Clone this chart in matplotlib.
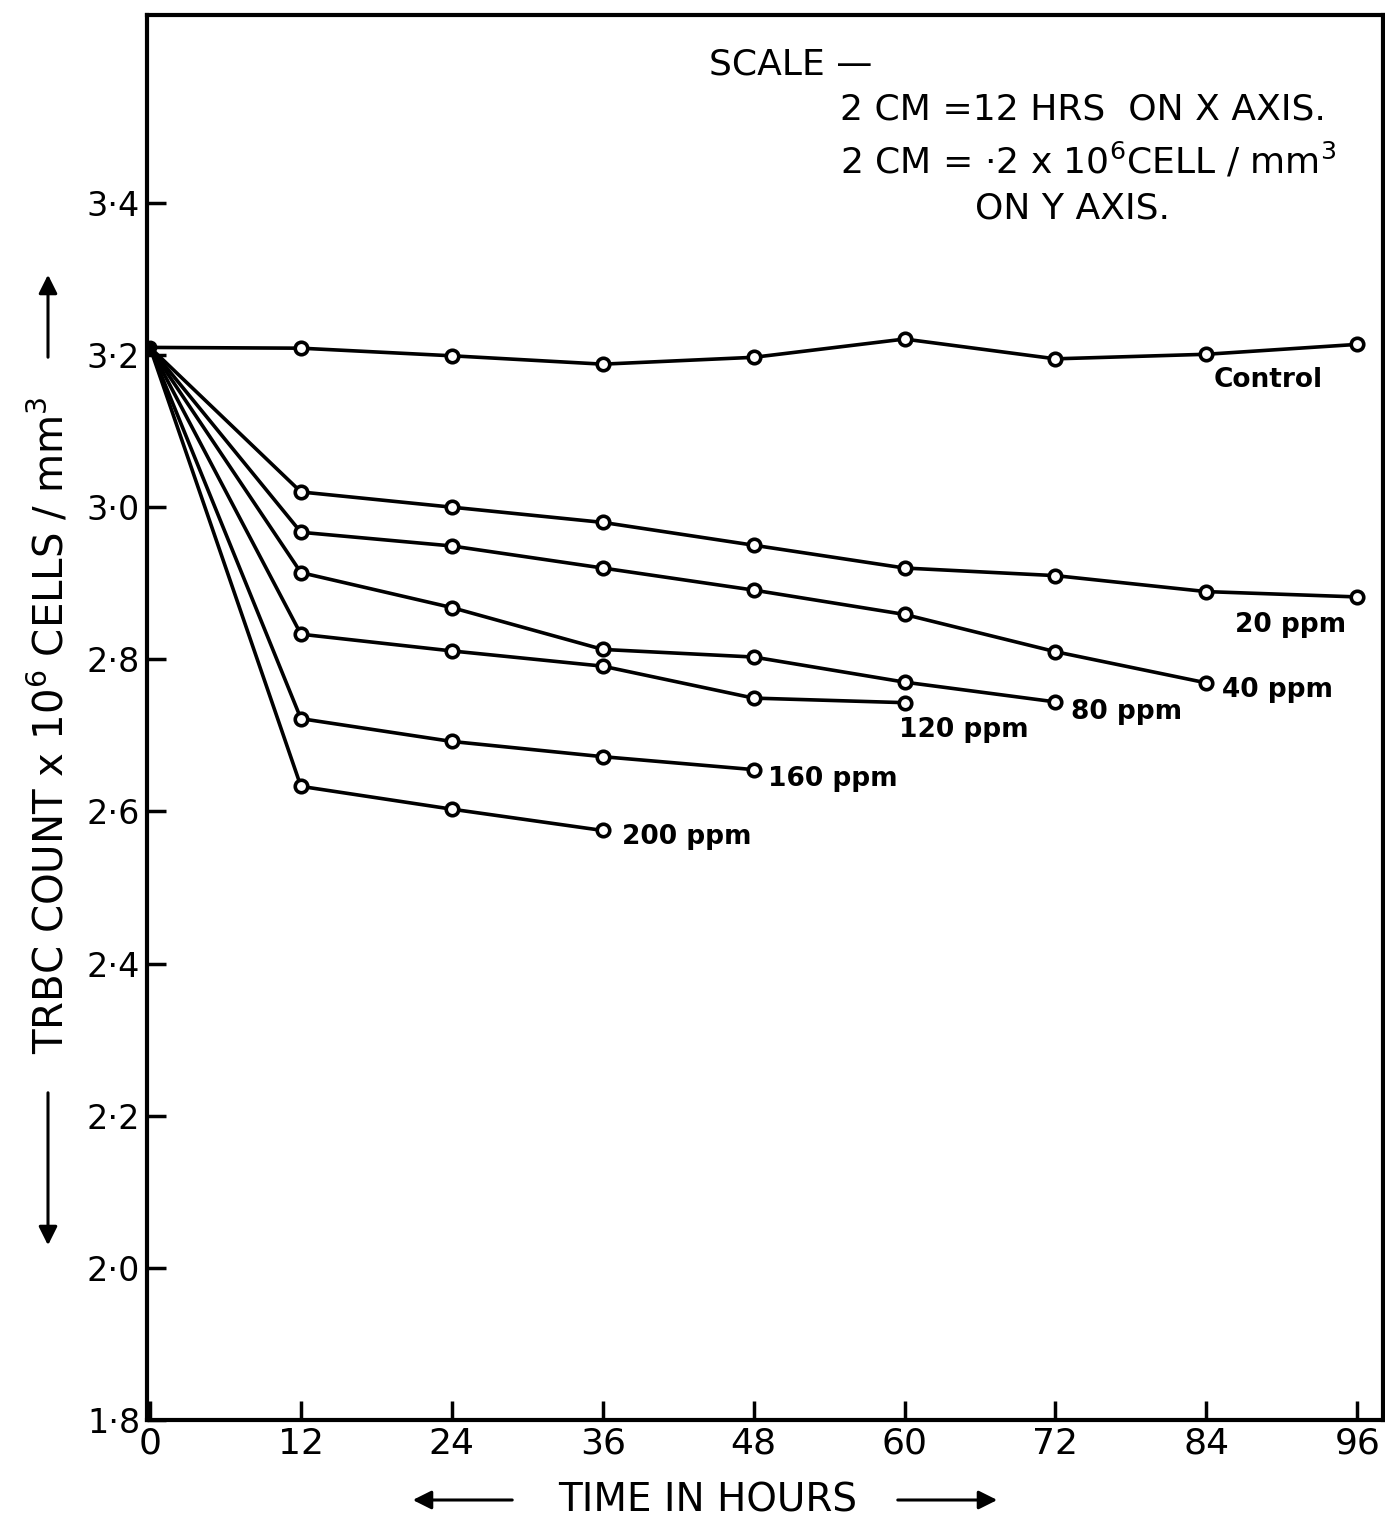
import matplotlib
matplotlib.use('Agg')
import matplotlib.pyplot as plt

plt.rcParams['font.family'] = ['DejaVu Sans']
plt.rcParams['mathtext.fontset'] = 'custom'
plt.rcParams['mathtext.rm'] = 'DejaVu Sans'

# 时间 (小时)
hours = [0, 12, 24, 36, 48, 60, 72, 84, 96]

# 各组 TRBC 值 (x10^6 cells/mm^3)
control = [3.21, 3.209, 3.199, 3.188, 3.197, 3.221, 3.195, 3.201, 3.214]
ppm20 = [3.21, 3.020, 3.000, 2.980, 2.950, 2.920, 2.910, 2.889, 2.882]
ppm40 = [3.21, 2.967, 2.949, 2.920, 2.891, 2.859, 2.810, 2.769]
ppm80 = [3.21, 2.914, 2.868, 2.813, 2.803, 2.770, 2.744]
ppm120 = [3.21, 2.833, 2.811, 2.791, 2.749, 2.743]
ppm160 = [3.21, 2.722, 2.692, 2.672, 2.655]
ppm200 = [3.21, 2.633, 2.603, 2.575]

series_names = ['Control', '20 ppm', '40 ppm', '80 ppm', '120 ppm', '160 ppm', '200 ppm']
series_values = [control, ppm20, ppm40, ppm80, ppm120, ppm160, ppm200]

# 标签偏移 (points)
label_offsets = [(-64, -26), (-48, -20), (11, -5), (11, -7), (-4, -20), (10, -7), (14, -5)]
label_ha = ['center', 'center', 'left', 'left', 'left', 'left', 'left']

y_ticks = [1.8, 2.0, 2.2, 2.4, 2.6, 2.8, 3.0, 3.2, 3.4]
y_tick_labels = ['1·8', '2·0', '2·2', '2·4', '2·6', '2·8', '3·0', '3·2', '3·4']

fig = plt.figure(figsize=(13.85, 15.19), dpi=100)
ax = fig.add_axes([147 / 1385, 1 - 1420 / 1519, 1236 / 1385, 1405 / 1519])

for name, vals, off, ha in zip(series_names, series_values, label_offsets, label_ha):
    x = hours[:len(vals)]
    ax.plot(x, vals, color='black', lw=2.6, zorder=2)
    ax.plot(x[1:], vals[1:], 'o', ms=9, mfc='white', mec='black', mew=2.6, zorder=3)
    ax.annotate(name, (x[-1], vals[-1]), xytext=off, textcoords='offset points',
                ha=ha, va='center', fontsize=19, fontweight='semibold')

ax.plot([0], [control[0]], 'o', ms=9, color='black', zorder=4)

ax.set_xlim(-0.24, 98.05)
ax.set_ylim(1.8, 3.647)
ax.set_xticks(hours)
ax.set_xticklabels([str(h) for h in hours], fontsize=26)
ax.set_yticks(y_ticks)
ax.set_yticklabels(y_tick_labels, fontsize=24)
ax.tick_params(direction='in', length=14, width=2.5, pad=5)
for s in ax.spines.values():
    s.set_linewidth(3)

# 比例说明
ax.text(0.455, 0.965, 'SCALE —', transform=ax.transAxes, fontsize=26, va='center')
ax.text(0.561, 0.933, '2 CM =12 HRS  ON X AXIS.', transform=ax.transAxes, fontsize=26, va='center')
ax.text(0.561, 0.896, r'2 CM = ·2 x 10$^{6}$CELL / mm$^{3}$', transform=ax.transAxes,
        fontsize=26, va='center')
ax.text(0.67, 0.862, 'ON Y AXIS.', transform=ax.transAxes, fontsize=26, va='center')

# 坐标轴标题
fig.text(708 / 1385, 1 - 1500 / 1519, 'TIME IN HOURS', ha='center', va='center', fontsize=28)
fig.text(50 / 1385, 1 - 725 / 1519, r'TRBC COUNT x 10$^{6}$ CELLS / mm$^{3}$',
         rotation=90, ha='center', va='center', fontsize=29)

arrow = dict(arrowstyle='-|>', color='black', lw=2.2, mutation_scale=28)
fig_h = 1519
fig_w = 1385
for (x0, y0), (x1, y1) in [((515, 1500), (410, 1500)), ((895, 1500), (1000, 1500)),
                           ((48, 360), (48, 272)), ((48, 1090), (48, 1248))]:
    fig.add_artist(matplotlib.patches.FancyArrowPatch(
        (x0 / fig_w, 1 - y0 / fig_h), (x1 / fig_w, 1 - y1 / fig_h),
        transform=fig.transFigure, **arrow))

fig.savefig('out.png', dpi=100)
